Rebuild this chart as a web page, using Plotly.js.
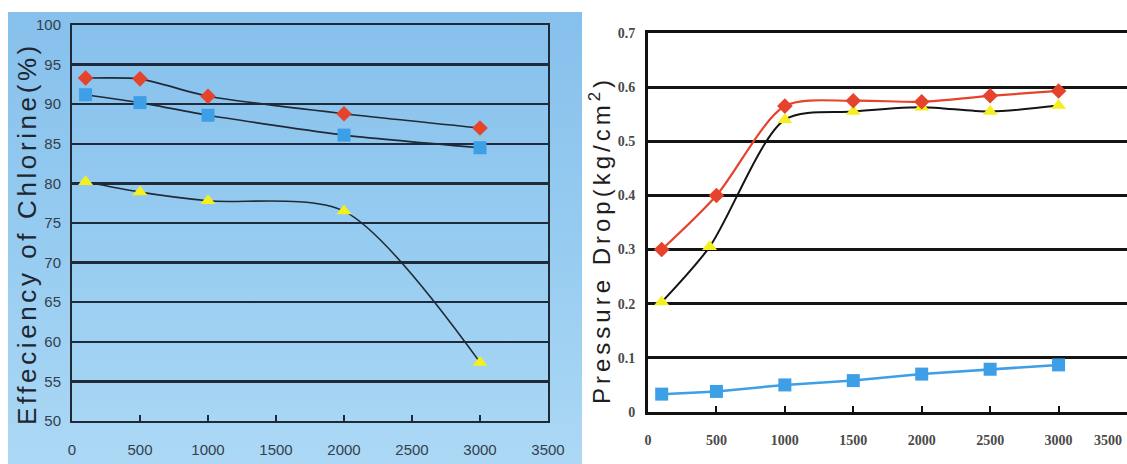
<!DOCTYPE html>
<html>
<head>
<meta charset="utf-8">
<script src="https://cdn.plot.ly/plotly-3.0.1.min.js"></script>
<style>
  html, body { margin: 0; padding: 0; background: #ffffff; }
  #wrap { position: relative; width: 1127px; height: 464px; overflow: hidden; }
  #panel { position: absolute; left: 8px; top: 12px; width: 574px; height: 452px;
           background: linear-gradient(180deg, #86c0ec 0%, #98cdf1 55%, #acd8f5 100%); }
  #chart { position: absolute; left: 0; top: 0; width: 1127px; height: 464px; }
</style>
</head>
<body>
<div id="wrap">
  <div id="panel"></div>
  <div id="chart"></div>
</div>
<script>
// ---- Left chart: Efficiency of Chlorine (%) ----
const effX = [100, 500, 1000, 2000, 3000];
const effRed = [93.3, 93.2, 91.0, 88.8, 87.0];
const effBlue = [91.2, 90.2, 88.6, 86.1, 84.5];
const effYellow = [80.2, 78.9, 77.8, 76.5, 57.4];
const effYTicks = [50, 55, 60, 65, 70, 75, 80, 85, 90, 95, 100];

// ---- Right chart: Pressure Drop (kg/cm2) ----
const pdX = [100, 500, 1000, 1500, 2000, 2500, 3000];
const pdYellowX = [100, 450, 1000, 1500, 2000, 2500, 3000];
const pdRed = [0.30, 0.40, 0.565, 0.575, 0.573, 0.584, 0.593];
const pdYellow = [0.203, 0.305, 0.54, 0.555, 0.563, 0.555, 0.566];
const pdBlue = [0.033, 0.038, 0.050, 0.058, 0.070, 0.079, 0.087];
const pdYTicks = [0, 0.1, 0.2, 0.3, 0.4, 0.5, 0.6, 0.7];
const pdYTickText = ['0', '0.1', '0.2', '0.3', '0.4', '0.5', '0.6', '0.7'];

const xTicks = [0, 500, 1000, 1500, 2000, 2500, 3000, 3500];
const xTickTextLeft = ['0', '500', '1000', '1500', '2000', '2500', '3000', '3500'];
const xTickTextRight = ['0', '500', '1000', '1500', '2000', '2500', '3000', ''];
const lastTickRight = 3500;
const lastTickRightText = '3500';

const RED = '#e5432c';
const BLUE = '#3d9fe6';
const YEL = '#f4f01e';
const LINE_L = '#1f2a36';

const traces = [
  {x: effX, y: effRed, xaxis: 'x', yaxis: 'y', mode: 'lines+markers',
   line: {color: LINE_L, width: 1.6, shape: 'spline', smoothing: 0.6},
   marker: {symbol: 'diamond', size: 12, color: RED}},
  {x: effX, y: effBlue, xaxis: 'x', yaxis: 'y', mode: 'lines+markers',
   line: {color: LINE_L, width: 1.6, shape: 'spline', smoothing: 0.6},
   marker: {symbol: 'square', size: 13, color: BLUE}},
  {x: effX, y: effYellow, xaxis: 'x', yaxis: 'y', mode: 'lines+markers',
   line: {color: LINE_L, width: 1.6, shape: 'spline', smoothing: 0.8},
   marker: {symbol: 'triangle-up', size: 13, color: YEL}},

  {x: pdYellowX, y: pdYellow, xaxis: 'x2', yaxis: 'y2', mode: 'lines+markers',
   line: {color: '#141414', width: 2, shape: 'spline', smoothing: 0.8},
   marker: {symbol: 'triangle-up', size: 13, color: YEL}},
  {x: pdX, y: pdRed, xaxis: 'x2', yaxis: 'y2', mode: 'lines+markers',
   line: {color: RED, width: 2.2, shape: 'spline', smoothing: 0.8},
   marker: {symbol: 'diamond', size: 12, color: RED}},
  {x: pdX, y: pdBlue, xaxis: 'x2', yaxis: 'y2', mode: 'lines+markers',
   line: {color: BLUE, width: 2.5},
   marker: {symbol: 'square', size: 13, color: BLUE}}
];

const sansNarrow = '"Liberation Sans Narrow", "Arial Narrow", "Liberation Sans", Arial, sans-serif';
const serif = '"Liberation Serif", "Times New Roman", "DejaVu Serif", serif';
const serifFont = {family: serif, size: 14, color: '#4a4a4a', weight: 'bold'};

const layout = {
  width: 1127, height: 464,
  margin: {l: 0, r: 0, t: 0, b: 0},
  paper_bgcolor: 'rgba(0,0,0,0)',
  plot_bgcolor: 'rgba(0,0,0,0)',
  showlegend: false,
  xaxis: {
    domain: [72/1127, 548/1127], range: [0, 3500], anchor: 'y',
    tickvals: xTicks, ticktext: xTickTextLeft,
    showgrid: false, zeroline: false,
    showline: true, linecolor: '#1f2a36', linewidth: 2, mirror: true,
    ticks: 'inside', ticklen: 6, tickwidth: 2, tickcolor: '#1f2a36',
    ticklabelstandoff: 14,
    tickfont: {family: sansNarrow, size: 15, color: '#33404c'}
  },
  yaxis: {
    domain: [43/464, 439/464], range: [50, 100], anchor: 'x',
    tickvals: effYTicks, ticktext: effYTicks.map(String),
    showgrid: true, gridcolor: '#1f2a3a', gridwidth: 2.5,
    zeroline: false,
    showline: true, linecolor: '#1f2a36', linewidth: 2, mirror: true,
    ticks: '', ticklabelstandoff: 6,
    tickfont: {family: sansNarrow, size: 15, color: '#33404c'}
  },
  xaxis2: {
    domain: [648/1127, 1], range: [0, 3500], anchor: 'y2',
    tickvals: xTicks, ticktext: xTickTextRight,
    showgrid: false, zeroline: false,
    showline: true, linecolor: '#111111', linewidth: 3, mirror: true,
    ticks: 'inside', ticklen: 6, tickwidth: 2, tickcolor: '#111111',
    ticklabelstandoff: 13,
    tickfont: serifFont
  },
  yaxis2: {
    domain: [52/464, 431/464], range: [0, 0.7], anchor: 'x2',
    tickvals: pdYTicks, ticktext: pdYTickText,
    showgrid: true, gridcolor: '#141414', gridwidth: 3,
    zeroline: false,
    showline: true, linecolor: '#111111', linewidth: 3, mirror: true,
    ticks: '', ticklabelstandoff: 7,
    tickfont: serifFont
  },
  annotations: [
    {text: 'Effeciency of Chlorine(%)', xref: 'paper', yref: 'paper',
     x: 27/1127, y: 1 - 234/464, xanchor: 'center', yanchor: 'middle',
     textangle: -90, showarrow: false,
     font: {family: '"Liberation Sans", Arial, sans-serif', size: 26, color: '#1e2630'}},
    {text: 'Pressure Drop(kg/cm<sup>2</sup>)', xref: 'paper', yref: 'paper',
     x: 600/1127, y: 1 - 240/464, xanchor: 'center', yanchor: 'middle',
     textangle: -90, showarrow: false,
     font: {family: '"Liberation Sans", Arial, sans-serif', size: 24, color: '#1e1e1e'}},
    {text: lastTickRightText, xref: 'x2', x: lastTickRight, yref: 'paper', y: 1 - 440/464,
     xanchor: 'right', yanchor: 'middle', xshift: -3, showarrow: false,
     font: serifFont}
  ]
};

Plotly.newPlot('chart', traces, layout, {displayModeBar: false, staticPlot: true}).then(function (gd) {
  const spacing = ['3.6px', '4px'];
  const texts = gd.querySelectorAll('.annotation-text');
  for (let i = 0; i < spacing.length && i < texts.length; i++) {
    texts[i].style.letterSpacing = spacing[i];
  }
});
</script>
</body>
</html>
